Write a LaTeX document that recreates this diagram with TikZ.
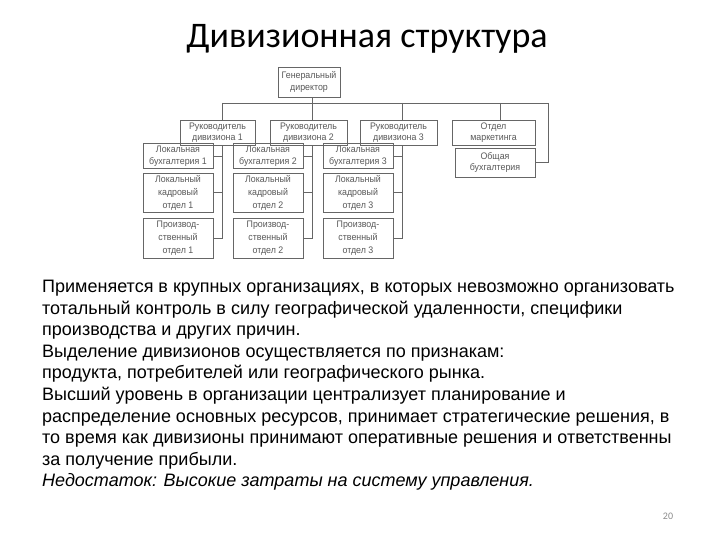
\documentclass[tikz,border=0pt]{standalone}
\usepackage{fontspec}
\setmainfont{Liberation Sans}
\newfontfamily\titlefont{Carlito}
\newfontfamily\boxfont[FakeStretch=0.93]{Liberation Sans}
\begin{document}
\begin{tikzpicture}[x=1pt,y=-1pt,
  orgbox/.style={draw=black!60, line width=0.8pt, text=black!65, inner sep=0pt,
    align=center, font=\boxfont\fontsize{9.5}{11.5}\selectfont, anchor=center},
  tallbox/.style={orgbox, font=\boxfont\fontsize{9.5}{13}\selectfont},
  orgline/.style={draw=black!60, line width=0.8pt},
  bodyline/.style={anchor=base west, inner sep=0pt, font=\fontsize{18}{21}\selectfont, text=black}]
\useasboundingbox[fill=white] (0,0) rectangle (720,540);
\node[anchor=base, inner sep=0pt, font=\titlefont\fontsize{36}{42}\selectfont] (title) at (367,48) {Дивизионная структура};
% top
\node[orgbox, minimum width=62pt, minimum height=30pt] (gd) at (309,82) {Генеральный\\директор};
\node[orgbox, minimum width=75pt, minimum height=25pt] (d1) at (217.5,132.5) {Руководитель\\дивизиона 1};
\node[orgbox, minimum width=77pt, minimum height=25pt] (d2) at (308.5,132.5) {Руководитель\\дивизиона 2};
\node[orgbox, minimum width=77pt, minimum height=25pt] (d3) at (398.5,132.5) {Руководитель\\дивизиона 3};
\node[orgbox, minimum width=83pt, minimum height=25pt] (mk) at (493.5,132.5) {Отдел\\маркетинга};
\node[orgbox, minimum width=80pt, minimum height=29pt] (ob) at (495,162.5) {Общая\\бухгалтерия};
% columns
\foreach \i/\cx in {1/178,2/268,3/358}{
  \node[orgbox, minimum width=70pt, minimum height=25pt] (b\i) at (\cx,156) {Локальная\\бухгалтерия \i};
  \node[tallbox, minimum width=70pt, minimum height=39pt] (k\i) at (\cx,192.5) {Локальный\\кадровый\\отдел \i};
  \node[tallbox, minimum width=70pt, minimum height=40pt] (p\i) at (\cx,238) {Производ-\\ственный\\отдел \i};
}
% bus
\coordinate (busL) at (222,103);
\coordinate (busR) at (548,103);
\coordinate (c1) at (222,0);
\coordinate (c2) at (312,0);
\coordinate (c3) at (402,0);
\coordinate (c4) at (500,0);
\draw[orgline] (gd.south -| c2) -- (busL -| c2);
\draw[orgline] (busL) -- (busR);
\draw[orgline] (busL) -- (d1.north -| c1);
\draw[orgline] (busL -| c2) -- (d2.north -| c2);
\draw[orgline] (busL -| c3) -- (d3.north -| c3);
\draw[orgline] (busL -| c4) -- (mk.north -| c4);
\draw[orgline] (busR) |- (ob.east);
\draw[orgline] (d1.south -| c1) |- (p1.east);
\draw[orgline] (d2.south -| c2) |- (p2.east);
\draw[orgline] (d3.south -| c3) |- (p3.east);
\foreach \i/\c in {1/c1,2/c2,3/c3}{
  \draw[orgline] (b\i.east) -- (b\i.east -| \c);
  \draw[orgline] (k\i.east) -- (k\i.east -| \c);
}
% body text
\node[bodyline] (l1) at (42,292.5) {Применяется в крупных организациях, в которых невозможно организовать};
\node[bodyline] (l2) at (42,314.1) {тотальный контроль в силу географической удаленности, специфики};
\node[bodyline] (l3) at (42,335.7) {производства и других причин.};
\node[bodyline] (l4) at (42,357.3) {Выделение дивизионов осуществляется по признакам:};
\node[bodyline] (l5) at (42,378.9) {продукта, потребителей или географического рынка.};
\node[bodyline] (l6) at (42,400.5) {Высший уровень в организации централизует планирование и};
\node[bodyline] (l7) at (42,422.1) {распределение основных ресурсов, принимает стратегические решения, в};
\node[bodyline] (l8) at (42,443.7) {то время как дивизионы принимают оперативные решения и ответственны};
\node[bodyline] (l9) at (42,465.3) {за получение прибыли.};
\node[bodyline, font=\fontsize{18}{21}\selectfont\itshape] (l10) at (42,486.9) {Недостаток: Высокие затраты на систему управления.};
\node[anchor=base, inner sep=0pt, text=black!45, font=\titlefont\fontsize{10}{12}\selectfont] (pg) at (668,519) {20};
\end{tikzpicture}
\end{document}
